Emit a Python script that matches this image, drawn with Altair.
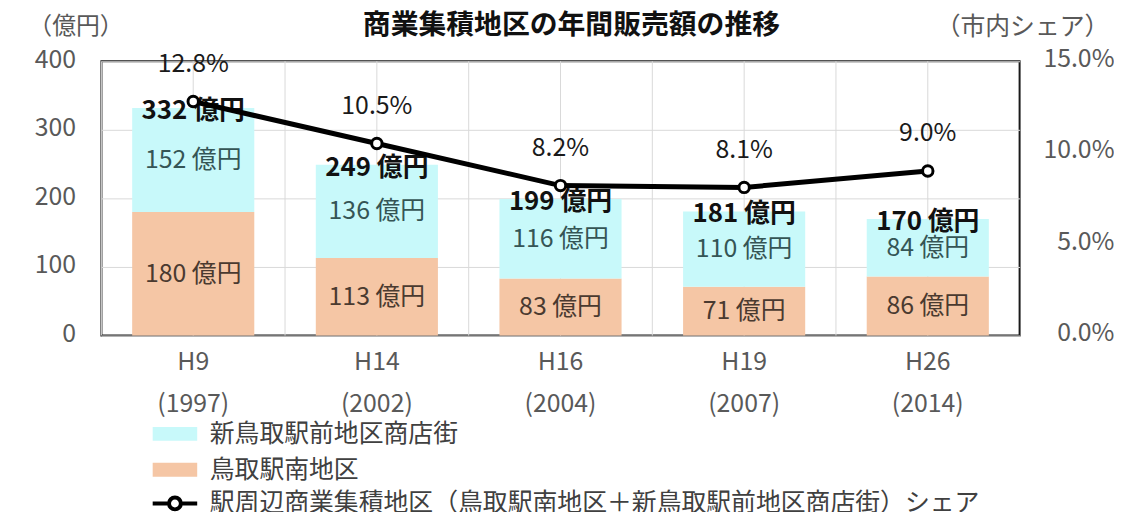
import altair as alt
import pandas as pd

# ---------------- data ----------------
eras = ["H9", "H14", "H16", "H19", "H26"]
years = ["(1997)", "(2002)", "(2004)", "(2007)", "(2014)"]
south = [180, 113, 83, 71, 86]          # 鳥取駅南地区 (億円)
front = [152, 136, 116, 110, 84]        # 新鳥取駅前地区商店街 (億円)
total = [332, 249, 199, 181, 170]       # 合計 (億円)
share = [12.8, 10.5, 8.2, 8.1, 9.0]     # 市内シェア (%)

S_FRONT = "新鳥取駅前地区商店街"
S_SOUTH = "鳥取駅南地区"
S_SHARE = "駅周辺商業集積地区（鳥取駅南地区＋新鳥取駅前地区商店街）シェア"

CYAN = "#C8F9FA"
PEACH = "#F5C6A5"
FONT = "Noto Sans CJK JP"

cats = [f"{e}|{y}" for e, y in zip(eras, years)]

bars_df = pd.DataFrame({
    "cat": cats * 2,
    "series": [S_SOUTH] * 5 + [S_FRONT] * 5,
    "value": south + front,
    "order": [0] * 5 + [1] * 5,
    "mid": [s / 2 for s in south] + [s + f / 2 for s, f in zip(south, front)],
    "label": [f"{v} 億円" for v in south + front],
})
tot_df = pd.DataFrame({"cat": cats, "total": total,
                       "label": [f"{t} 億円" for t in total]})
shr_df = pd.DataFrame({"cat": cats, "share": share, "series": [S_SHARE] * 5,
                       "label": [f"{s:.1f}%" for s in share]})

W, H = 924, 276

x_axis = alt.Axis(title=None, labelExpr="split(datum.label, '|')", labelAngle=0,
                  ticks=False, domain=False, grid=False, labelFontSize=25,
                  labelColor="#595959", labelPadding=14, labelLineHeight=42,
                  labelBaseline="top", labelFont=FONT)


def xenc(bp=None):
    kw = dict(sort=cats, scale=alt.Scale(paddingInner=0, paddingOuter=0), axis=x_axis)
    if bp is not None:
        kw["bandPosition"] = bp
    return alt.X("cat:N", **kw)


yl_scale = alt.Scale(domain=[0, 400], nice=False)
yr_scale = alt.Scale(domain=[0, 15], nice=False)

yl_axis = alt.Axis(values=[0, 100, 200, 300, 400], grid=True, gridColor="#D9D9D9",
                   gridWidth=1, ticks=False, tickSize=0, domain=False,
                   labelFontSize=25, labelColor="#595959", labelPadding=26,
                   labelOffset=-2, labelFont=FONT,
                   title="（億円）", titleAngle=0, titleAlign="left",
                   titleBaseline="middle", titleX=-74, titleY=-35,
                   titleFontSize=24, titleFontWeight="normal", titleColor="#595959",
                   titleFont=FONT)
yr_axis = alt.Axis(orient="right", values=[0, 5, 10, 15], grid=False, ticks=False,
                   tickSize=0, domain=False,
                   labelExpr="format(datum.value, '.1f') + '%'",
                   labelFontSize=25, labelColor="#595959", labelPadding=95,
                   labelAlign="right", labelOffset=-3, labelFont=FONT,
                   title="（市内シェア）", titleAngle=0, titleAlign="left",
                   titleBaseline="middle", titleX=-85, titleY=-35,
                   titleFontSize=25, titleFontWeight="normal", titleColor="#595959",
                   titleFont=FONT)

# vertical grid lines (category centres and boundaries)
grid_b = alt.Chart(tot_df).mark_rule(color="#D9D9D9", strokeWidth=1).encode(x=xenc(0))
grid_c = alt.Chart(tot_df).mark_rule(color="#D9D9D9", strokeWidth=1).encode(x=xenc(0.5))

bars = alt.Chart(bars_df).mark_bar(width=alt.RelativeBandSize(0.665)).encode(
    x=xenc(),
    y=alt.Y("value:Q", stack="zero", scale=yl_scale, axis=yl_axis),
    fill=alt.Fill("series:N",
                  scale=alt.Scale(domain=[S_FRONT, S_SOUTH], range=[CYAN, PEACH]),
                  legend=alt.Legend(orient="none", legendX=61.5, legendY=362.5,
                                    title=None, padding=0,
                                    symbolType="M-3.2,-1L3.2,-1L3.2,1L-3.2,1Z",
                                    symbolSize=196, symbolStrokeWidth=0,
                                    labelFontSize=25, labelFont=FONT,
                                    labelColor="#404040", labelOffset=22.5,
                                    rowPadding=10, labelLimit=1000)),
    order=alt.Order("order:Q"),
)

seg_south = alt.Chart(bars_df).transform_filter(
    alt.datum.series == S_SOUTH).mark_text(
    fontSize=25, font=FONT, color="#4A3A30", baseline="middle").encode(
    x=xenc(), y=alt.Y("mid:Q", scale=yl_scale, axis=yl_axis), text="label:N")
seg_front = alt.Chart(bars_df).transform_filter(
    alt.datum.series == S_FRONT).mark_text(
    fontSize=25, font=FONT, color="#355555", baseline="middle").encode(
    x=xenc(), y=alt.Y("mid:Q", scale=yl_scale, axis=yl_axis), text="label:N")
tot_text = alt.Chart(tot_df).mark_text(
    fontSize=26, font=FONT, fontWeight="bold", color="#111111",
    baseline="middle", dy=3).encode(
    x=xenc(), y=alt.Y("total:Q", scale=yl_scale, axis=yl_axis), text="label:N")

left = alt.layer(bars, seg_south, seg_front, tot_text)

line = alt.Chart(shr_df).mark_line(strokeWidth=5).encode(
    x=xenc(),
    y=alt.Y("share:Q", scale=yr_scale, axis=yr_axis),
    stroke=alt.Stroke("series:N", scale=alt.Scale(domain=[S_SHARE], range=["#000000"]),
                      legend=alt.Legend(orient="none", legendX=61.5, legendY=432.5,
                                        title=None, padding=0,
                                        symbolType="M-3.2,0L-0.85,0M0.85,0L3.2,0M0.85,0A0.85,0.85,0,1,1,-0.85,0A0.85,0.85,0,1,1,0.85,0",
                                        symbolSize=196, symbolStrokeWidth=4,
                                        symbolFillColor="white",
                                        labelFontSize=25, labelFont=FONT,
                                        labelColor="#404040", labelOffset=22.5,
                                        labelLimit=1000)),
)
points = alt.Chart(shr_df).mark_point(filled=True, fill="white", stroke="black",
                                      strokeWidth=3, size=110, opacity=1).encode(
    x=xenc(), y=alt.Y("share:Q", scale=yr_scale, axis=yr_axis))
pct_text = alt.Chart(shr_df).mark_text(
    fontSize=25, font=FONT, color="#1a1a1a",
    baseline="middle", dy=-38).encode(
    x=xenc(), y=alt.Y("share:Q", scale=yr_scale, axis=yr_axis), text="label:N")

right = alt.layer(line, points, pct_text)

chart = alt.layer(grid_b, grid_c, left, right).resolve_scale(y="independent").properties(
    width=W, height=H,
    autosize=alt.AutoSizeParams(type="none"),
    padding={"left": 94, "top": 52, "right": 95, "bottom": 176},
    title=alt.TitleParams("商業集積地区の年間販売額の推移", fontSize=28, fontWeight="bold",
                          font=FONT, color="#111111", anchor="middle", frame="group",
                          dx=11, dy=30, offset=4),
).configure(background="white").configure_view(stroke="#1a1a1a", strokeWidth=2)

chart.save("out.html", embed_options={"renderer": "svg", "actions": False})
